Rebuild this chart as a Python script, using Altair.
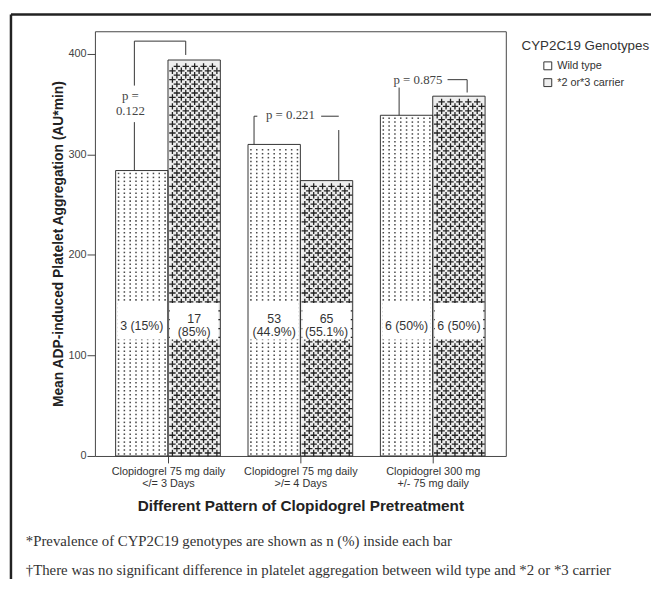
import altair as alt
import pandas as pd
import numpy as np

# ---------------- data ----------------
group_lines = [["Clopidogrel 75 mg daily", "</= 3 Days"],
               ["Clopidogrel 75 mg daily", ">/= 4 Days"],
               ["Clopidogrel 300 mg", "+/- 75 mg daily"]]
genotypes = ["Wild type", "*2 or*3 carrier"]
wild_means = [284, 310, 339]
carrier_means = [394, 274, 358]
wild_counts = ["3 (15%)", "53\n(44.9%)", "6 (50%)"]
carrier_counts = ["17\n(85%)", "65\n(55.1%)", "6 (50%)"]
p_texts = ["p =\n0.122", "p = 0.221", "p = 0.875"]
y_ticks = [0, 100, 200, 300, 400]
footnotes = ["*Prevalence of CYP2C19 genotypes are shown as n (%) inside each bar",
             "\u2020There was no significant difference in platelet aggregation between wild type and *2 or *3 carrier"]

# ---------------- layout constants ----------------
W, H = 416, 430
XDOM = [-0.552, 2.552]
YDOM = [0, 422.6]
PXX = W / (XDOM[1] - XDOM[0])
PXY = H / (YDOM[1] - YDOM[0])
BW = 53 / PXX
SANS = "Liberation Sans"
SERIF = "Liberation Serif"
LAB_LH = 13.5
P_LH = 15.5


def py(px):
    return (458 - px) / PXY


def block_y(yv, text, lh):
    # centre a multi-line block on yv (Vega stacks extra lines downward)
    n = text.count("\n") + 1
    return yv + (n - 1) * lh / 2 / PXY


# bars
bars = []
for i in range(3):
    bars.append({"x": i - BW, "x2": i, "y": 0, "y2": wild_means[i], "g": genotypes[0]})
    bars.append({"x": i, "x2": i + BW, "y": 0, "y2": carrier_means[i], "g": genotypes[1]})
bars_df = pd.DataFrame(bars)

# textures (pattern fill of the bars)
dots, crosses = [], []
for i in range(3):
    x0 = i - BW
    ncol = 9
    yv = 2.0
    while yv < wild_means[i] - 1.5:
        for k in range(ncol):
            dots.append({"x": x0 + (k + 0.5) * BW / ncol, "y": yv})
        yv += 4.0 / PXY
    x0 = i
    r = 0
    yv = 3.0 / PXY
    while yv < carrier_means[i] - 3.0 / PXY:
        start = 4.5 if r % 2 == 0 else 9.0
        xp = start
        while xp <= 50:
            crosses.append({"x": x0 + xp / PXX, "y": yv})
            xp += 9.0
        yv += 4.5 / PXY
        r += 1
dots_df = pd.DataFrame(dots)
cross_df = pd.DataFrame(crosses)

# count label boxes and texts
boxes, labels = [], []
for i in range(3):
    for cnt, xa in [(wild_counts[i], i - BW), (carrier_counts[i], i)]:
        boxes.append({"x": xa + 2 / PXX, "x2": xa + BW - 2 / PXX, "y": py(340), "y2": py(303)})
        labels.append({"x": xa + BW / 2, "y": block_y(py(326), cnt, LAB_LH), "t": cnt})
boxes_df = pd.DataFrame(boxes)
labels_df = pd.DataFrame(labels)

# significance brackets
segs = [
    # group 1
    {"x": -0.254, "x2": -0.254, "y": wild_means[0], "y2": py(120)},
    {"x": -0.254, "x2": -0.254, "y": py(83), "y2": py(38)},
    {"x": -0.254, "x2": 0.134, "y": py(38), "y2": py(38)},
    {"x": 0.134, "x2": 0.134, "y": py(38), "y2": py(52)},
    # group 2
    {"x": 1 - 0.35, "x2": 1 - 0.35, "y": wild_means[1], "y2": py(114)},
    {"x": 1 - 0.35, "x2": 1 - 0.325, "y": py(114), "y2": py(114)},
    {"x": 1 + 0.157, "x2": 1 + 0.29, "y": py(114), "y2": py(114)},
    {"x": 1 + 0.29, "x2": 1 + 0.29, "y": py(128), "y2": carrier_means[1]},
    # group 3
    {"x": 2 - 0.254, "x2": 2 - 0.254, "y": py(85), "y2": wild_means[2]},
    {"x": 2 + 0.112, "x2": 2 + 0.26, "y": py(77), "y2": py(77)},
    {"x": 2 + 0.26, "x2": 2 + 0.26, "y": py(77), "y2": py(90)},
]
segs_df = pd.DataFrame(segs)
ptext_df = pd.DataFrame([
    {"x": -0.284, "y": block_y(py(101), p_texts[0], P_LH), "t": p_texts[0]},
    {"x": 1 - 0.075, "y": py(113), "t": p_texts[1]},
    {"x": 2 - 0.112, "y": py(77), "t": p_texts[2]},
])

# ---------------- encodings ----------------
label_expr = "[" + ",".join("['%s','%s']" % (a, b) for a, b in group_lines) + "][datum.value]"
xscale = alt.Scale(domain=XDOM, nice=False, zero=False)
yscale = alt.Scale(domain=YDOM, nice=False, zero=False)
xaxis = alt.Axis(values=[0, 1, 2], labelExpr=label_expr, grid=False, domain=False,
                 tickSize=7, tickColor="#444", labelFont=SANS, labelFontSize=11,
                 labelColor="#333", labelPadding=3, labelLineHeight=11.5,
                 title="Different Pattern of Clopidogrel Pretreatment",
                 titleFont=SANS, titleFontSize=15.5, titleFontWeight="bold", titleColor="#222",
                 titleX=208, titleY=55, titleBaseline="alphabetic", titleAlign="center")
yaxis = alt.Axis(values=y_ticks, grid=False, domain=False, tickSize=8, tickColor="#444",
                 labelFont=SANS, labelFontSize=11, labelColor="#444", labelPadding=1,
                 title="Mean ADP-induced Platelet Aggregation (AU*min)",
                 titleFont=SANS, titleFontSize=14, titleFontWeight="bold", titleColor="#222",
                 titleX=-37, titleY=215, titleAngle=270, titleAlign="center",
                 titleBaseline="middle")
X = alt.X("x:Q", scale=xscale, axis=xaxis)
Y = alt.Y("y:Q", scale=yscale, axis=yaxis)

bar_fill = alt.Chart(bars_df).mark_rect(strokeWidth=0).encode(
    x=X, x2="x2", y=Y, y2="y2",
    color=alt.Color("g:N", scale=alt.Scale(domain=genotypes, range=["#ffffff", "#eeeeee"]),
                    legend=alt.Legend(title="CYP2C19 Genotypes", orient="none",
                                      legendX=432, legendY=8,
                                      titleFont=SANS, titleFontSize=13.5, titleFontWeight="normal",
                                      titleColor="#333", titlePadding=8,
                                      labelFont=SANS, labelFontSize=11, labelColor="#333",
                                      symbolType="square", symbolSize=64,
                                      symbolStrokeColor="#333", symbolStrokeWidth=1,
                                      symbolOffset=21, rowPadding=4)))

dot_layer = alt.Chart(dots_df).mark_square(size=2.4, color="#4a4a4a", opacity=1).encode(x=X, y=Y)
cross_layer = alt.Chart(cross_df).mark_point(
    shape="M-1,0H1M0,-1V1", size=42, filled=False, strokeWidth=1.3, color="#222", opacity=1
).encode(x=X, y=Y)

bar_outline = alt.Chart(bars_df).mark_rect(fillOpacity=0, stroke="#333", strokeWidth=1).encode(
    x=X, x2="x2", y=Y, y2="y2")

box_layer = alt.Chart(boxes_df).mark_rect(fill="white", strokeWidth=0).encode(
    x=X, x2="x2", y=Y, y2="y2")
label_layer = alt.Chart(labels_df).mark_text(
    font=SANS, fontSize=12.5, color="#333", lineBreak="\n", lineHeight=LAB_LH,
    align="center", baseline="middle").encode(x=X, y=Y, text="t:N")

seg_layer = alt.Chart(segs_df).mark_rule(color="#333", strokeWidth=1).encode(
    x=X, x2="x2", y=Y, y2="y2")
ptext_layer = alt.Chart(ptext_df).mark_text(
    font=SERIF, fontSize=13, color="#444", lineBreak="\n", lineHeight=P_LH,
    align="center", baseline="middle").encode(x=X, y=Y, text="t:N")

foot_df = pd.DataFrame({"t": footnotes, "yy": [516, 546]})
foot_layer = alt.Chart(foot_df).mark_text(
    font=SERIF, fontSize=15, color="#333", align="left", baseline="middle").encode(
    x=alt.value(-70), y=alt.Y("yy:Q", scale=None), text="t:N")

border_h = alt.Chart(pd.DataFrame({"a": [0]})).mark_rule(color="#222", strokeWidth=2.5).encode(
    x=alt.value(-85), x2=alt.value(570), y=alt.value(-17))
border_v = alt.Chart(pd.DataFrame({"a": [0]})).mark_rule(color="#222", strokeWidth=2.5).encode(
    x=alt.value(-85), y=alt.value(-17), y2=alt.value(600))

chart = alt.layer(
    bar_fill, dot_layer, cross_layer, bar_outline, box_layer, label_layer,
    seg_layer, ptext_layer, foot_layer, border_h, border_v
).properties(
    width=W, height=H,
    autosize=alt.AutoSizeParams(type="none"),
    padding={"left": 88, "top": 20, "right": 147, "bottom": 121},
    background="white",
).configure_view(stroke="#444", strokeWidth=1)

chart.save("out.html", embed_options={"renderer": "svg", "actions": False})
